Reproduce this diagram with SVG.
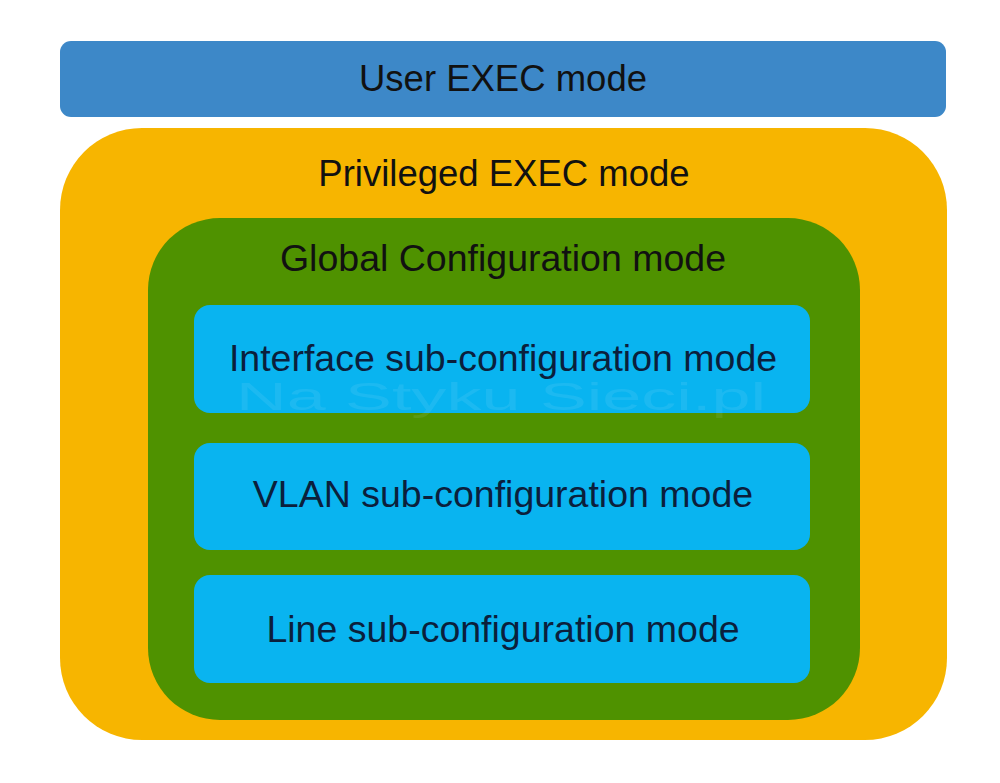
<svg xmlns="http://www.w3.org/2000/svg" width="1000" height="783" viewBox="0 0 1000 783">
<style>
text{font-family:"Liberation Sans",Arial,sans-serif;text-anchor:middle;font-size:37.5px}
.lbl{fill:#111111}
.top{font-size:36.5px}
.sub{fill:#0b1f3c}
.sb{fill:#09b4f0}
</style>
<rect width="1000" height="783" fill="#ffffff"/>
<g id="user-exec">
<rect x="60" y="41" width="886" height="76" rx="11" fill="#3d88c8"/>
<text class="lbl top" x="503" y="91">User EXEC mode</text>
</g>
<g id="privileged-exec">
<rect x="60" y="128" width="887" height="612" rx="82" fill="#f7b500"/>
<text class="lbl top" x="504" y="186">Privileged EXEC mode</text>
</g>
<g id="global-config">
<rect x="148" y="218" width="712" height="502" rx="72" fill="#4f9200"/>
<text class="lbl" x="503" y="271">Global Configuration mode</text>
</g>
<g id="interface-sub">
<rect class="sb" x="194" y="305" width="616" height="108" rx="16"/>
<text class="sub" x="503" y="371">Interface sub-configuration mode</text>
</g>
<g id="vlan-sub">
<rect class="sb" x="194" y="443" width="616" height="107" rx="16"/>
<text class="sub" x="503" y="507">VLAN sub-configuration mode</text>
</g>
<g id="line-sub">
<rect class="sb" x="194" y="575" width="616" height="108" rx="16"/>
<text class="sub" x="503" y="642">Line sub-configuration mode</text>
</g>
<text x="501" y="410" textLength="530" lengthAdjust="spacingAndGlyphs" style="font-size:38px;fill:#ffffff;fill-opacity:0.08">Na Styku Sieci.pl</text>
</svg>
